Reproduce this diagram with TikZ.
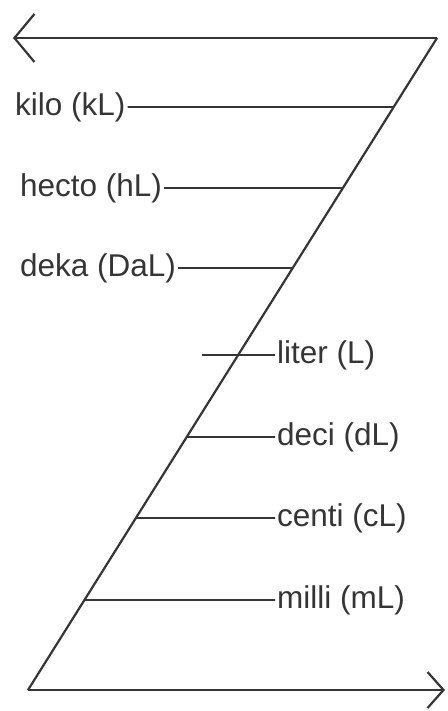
\documentclass[tikz,border=0pt]{standalone}
\usepackage{fontspec}
\setmainfont{Liberation Sans}
\usetikzlibrary{arrows.meta}
\definecolor{inkgray}{HTML}{353535}
\tikzset{
  unit/.style={font=\fontsize{31.5}{36}\selectfont, text=inkgray, inner sep=2pt},
  axis/.style={draw=inkgray, line width=2.2pt},
  tick/.style={draw=inkgray, line width=1.6pt},
}
\begin{document}
\begin{tikzpicture}[x=1pt, y=-1pt]
  \useasboundingbox (0,0) rectangle (447,711);
  % corners of the Z
  \coordinate (tl) at (13,38);
  \coordinate (tr) at (437,38);
  \coordinate (bl) at (28,690);
  \coordinate (br) at (445,690);
  \draw[axis, -{Straight Barb[length=20pt,width=48pt]}] (tr) -- (tl);
  \draw[axis] (tr) -- (bl);
  \draw[axis, -{Straight Barb[length=16pt,width=36pt]}] (bl) -- (br);
  % larger units, left of the slope
  \node[unit, anchor=west] (kilo) at (13,107) {kilo (kL)};
  \node[unit, anchor=west] (hecto) at (18,188) {hecto (hL)};
  \node[unit, anchor=west] (deka) at (18,268) {deka (DaL)};
  \foreach \u in {kilo,hecto,deka}
    \draw[tick] (\u.east) -- (intersection of tr--bl and \u.west--\u.east);
  % base unit
  \node[unit, anchor=west] (liter) at (275,355) {liter (L)};
  \coordinate (literstub) at (202,355);
  \draw[tick] (literstub) -- (liter.west);
  % smaller units, right of the slope
  \node[unit, anchor=west] (deci) at (275,437) {deci (dL)};
  \node[unit, anchor=west] (centi) at (275,518) {centi (cL)};
  \node[unit, anchor=west] (milli) at (275,600) {milli (mL)};
  \foreach \u in {deci,centi,milli}
    \draw[tick] (intersection of tr--bl and \u.west--\u.east) -- (\u.west);
\end{tikzpicture}
\end{document}
